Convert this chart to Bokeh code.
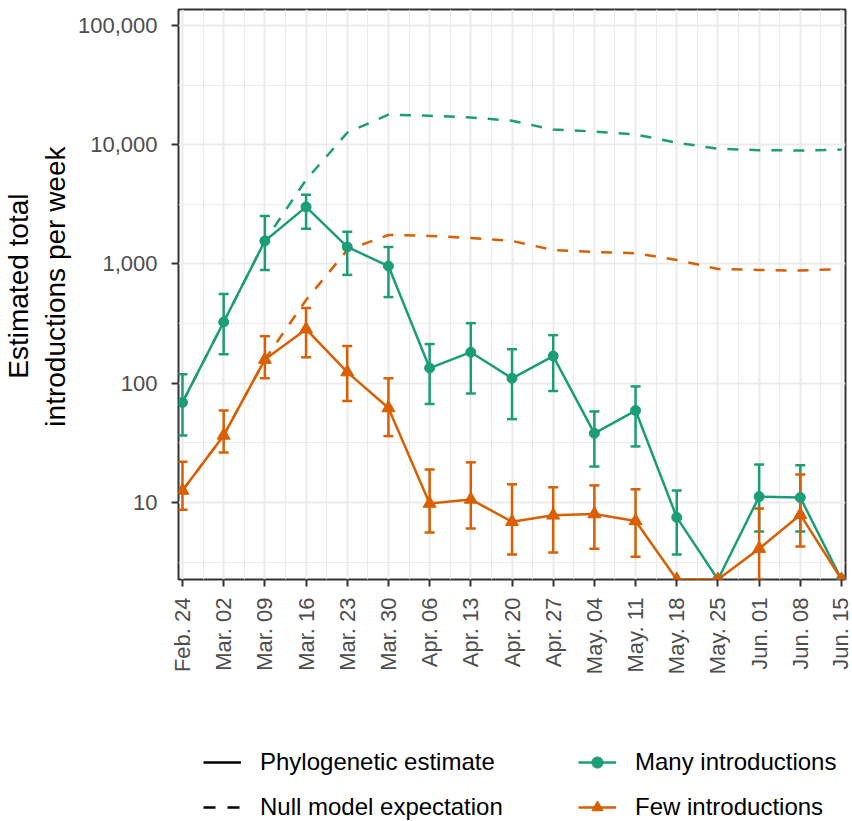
import math
from bokeh.plotting import figure
from bokeh.layouts import column
from bokeh.models import (Range1d, FixedTicker, Whisker, TeeHead, ColumnDataSource,
                          Legend, LegendItem, NumeralTickFormatter, Title)
from bokeh.embed import file_html
from bokeh.resources import INLINE

# ---------------- data ----------------
weeks = ["Feb. 24", "Mar. 02", "Mar. 09", "Mar. 16", "Mar. 23", "Mar. 30", "Apr. 06",
         "Apr. 13", "Apr. 20", "Apr. 27", "May. 04", "May. 11", "May. 18", "May. 25",
         "Jun. 01", "Jun. 08", "Jun. 15"]

# Many introductions (phylogenetic estimate), 0 = drawn at panel floor
many_est = [69, 326, 1560, 3010, 1390, 960, 134, 182, 110, 169, 38, 59, 7.5, 0, 11.2, 11.0, 0]
many_lo = [36.5, 175, 890, 1970, 810, 528, 67, 82, 50, 86, 20, 29.5, 3.66, None, 5.7, 5.7, None]
many_hi = [119, 560, 2530, 3800, 1860, 1390, 213, 319, 193, 253, 58, 94, 12.6, None, 20.8, 20.5, None]

# Few introductions
few_est = [12.6, 36.5, 158, 284, 124, 62, 9.8, 10.6, 6.9, 7.8, 8.0, 7.0, 0, 0, 4.1, 7.9, 0]
few_lo = [8.7, 26.3, 110, 165, 71, 36, 5.6, 6.05, 3.66, 3.8, 4.1, 3.5, None, None, 0, 4.27, None]
few_hi = [22, 59, 248, 427, 205, 110, 18.9, 21.7, 14.2, 13.4, 13.9, 12.9, None, None, 8.9, 17.2, None]

# Null model expectation
many_null = [69, 326, 1560, 5080, 12600, 17900, 17500, 16900, 15900, 13400, 12900, 12200,
             10400, 9250, 9000, 8950, 9100]
few_null = [12.6, 36.5, 158, 498, 1310, 1750, 1720, 1650, 1560, 1310, 1260, 1230,
            1080, 908, 890, 880, 908]

y_major = [10, 100, 1000, 10000, 100000]
y_minor = [10 ** 0.5, 10 ** 1.5, 10 ** 2.5, 10 ** 3.5, 10 ** 4.5]

y_title_lines = ["Estimated total", "introductions per week"]
legend_labels = ["Phylogenetic estimate", "Null model expectation",
                 "Many introductions", "Few introductions"]

GREEN = "#1B9E77"
ORANGE = "#D95F02"
FONT = "Liberation Sans"

Y_LO = 10 ** 0.354
Y_HI = 10 ** 5.134
MAIN_H = 686
LEG_H = 821 - MAIN_H


def floor0(v):
    # mimic ggplot: log10(0) = -Inf is drawn at the panel edge
    if v is None:
        return None
    return Y_LO if v <= 0 else v


x = list(range(len(weeks)))

p = figure(width=852, height=MAIN_H, output_backend="svg", toolbar_location=None,
           y_axis_type="log",
           x_range=Range1d(-0.097, len(weeks) - 1 + 0.097),
           y_range=Range1d(Y_LO, Y_HI),
           min_border_left=178, min_border_right=7, min_border_top=9,
           min_border_bottom=MAIN_H - 579)

p.background_fill_color = "white"
p.border_fill_color = "white"
p.outline_line_color = "#333333"
p.outline_line_width = 2

# axes
p.xaxis.ticker = FixedTicker(ticks=x, minor_ticks=[i + 0.5 for i in x[:-1]])
p.xaxis.major_label_overrides = {i: w for i, w in enumerate(weeks)}
p.xaxis.major_label_orientation = math.pi / 2
p.yaxis.ticker = FixedTicker(ticks=y_major, minor_ticks=y_minor)
p.yaxis.formatter = NumeralTickFormatter(format="0,0")
for ax in (p.xaxis, p.yaxis):
    ax.axis_line_color = None
    ax.major_tick_line_color = "#333333"
    ax.major_tick_line_width = 2
    ax.major_tick_out = 7
    ax.major_tick_in = 0
    ax.minor_tick_out = 0
    ax.minor_tick_in = 0
    ax.major_label_text_font = FONT
    ax.major_label_text_color = "#4D4D4D"
    ax.major_label_text_font_size = "22px"
p.xaxis.major_label_standoff = 11
p.yaxis.major_label_standoff = 14

# y-axis title: two centred lines stacked in the left panel (nearest to axis first).
# Lines are top-anchored; offsets place each line centred around y ~ 286 px.
TITLE_PX = 28
title_specs = [(y_title_lines[1], 137, 8), (y_title_lines[0], 184, 0)]
for txt, off, so in title_specs:
    t = Title(text=txt, align="right", offset=off, standoff=so,
              text_font=FONT, text_font_size=f"{TITLE_PX}px", text_font_style="normal",
              text_color="black")
    p.add_layout(t, "left")

for g in (p.xgrid, p.ygrid):
    g.grid_line_color = "#EBEBEB"
    g.grid_line_width = 2
    g.minor_grid_line_color = "#EBEBEB"
    g.minor_grid_line_width = 1

# null model dashed lines
p.line(x, [floor0(v) for v in many_null], color=GREEN, line_width=2.5, line_dash="11 11")
p.line(x, [floor0(v) for v in few_null], color=ORANGE, line_width=2.5, line_dash="11 11")


def errorbars(lo, hi, color):
    xs, l, h = [], [], []
    for i, (a, b) in enumerate(zip(lo, hi)):
        if a is None or b is None:
            continue
        xs.append(i)
        l.append(floor0(a))
        h.append(floor0(b))
    src = ColumnDataSource(dict(x=xs, lo=l, hi=h))
    w = Whisker(source=src, base="x", lower="lo", upper="hi", line_color=color, line_width=2.5,
                upper_head=TeeHead(size=10, line_color=color, line_width=2.5),
                lower_head=TeeHead(size=10, line_color=color, line_width=2.5))
    p.add_layout(w)


errorbars(many_lo, many_hi, GREEN)
errorbars(few_lo, few_hi, ORANGE)

many_y = [floor0(v) for v in many_est]
few_y = [floor0(v) for v in few_est]
p.line(x, many_y, color=GREEN, line_width=2.5)
p.scatter(x, many_y, color=GREEN, size=10, marker="circle")
p.line(x, few_y, color=ORANGE, line_width=2.5)
p.scatter(x, few_y, color=ORANGE, size=13, marker="triangle")

# ---------------- legend figure ----------------
lf = figure(width=852, height=LEG_H, output_backend="svg", toolbar_location=None,
            x_range=Range1d(0, 1), y_range=Range1d(0, 1),
            min_border_left=0, min_border_right=0, min_border_top=0, min_border_bottom=0)
lf.axis.visible = False
lf.grid.visible = False
lf.outline_line_color = None
lf.background_fill_color = "white"
lf.border_fill_color = "white"

# key-only renderers: data placed outside the visible range so nothing shows
dummy = ColumnDataSource(dict(x=[-5, -4], y=[-5, -4]))
solid = lf.line("x", "y", source=dummy, color="black", line_width=2.5)
dashed = lf.line("x", "y", source=dummy, color="black", line_width=2.5, line_dash="12 12")
lgm = lf.line("x", "y", source=dummy, color=GREEN, line_width=2.5)
lgs = lf.scatter("x", "y", source=dummy, color=GREEN, size=8, marker="circle")
lom = lf.line("x", "y", source=dummy, color=ORANGE, line_width=2.5)
los = lf.scatter("x", "y", source=dummy, color=ORANGE, size=11, marker="triangle")

legend = Legend(items=[
    LegendItem(label=legend_labels[0], renderers=[solid]),
    LegendItem(label=legend_labels[1], renderers=[dashed]),
    LegendItem(label=legend_labels[2], renderers=[lgm, lgs]),
    LegendItem(label=legend_labels[3], renderers=[lom, los]),
], location=(25, 0), orientation="vertical", nrows=2)
legend.label_text_font = FONT
legend.label_text_font_size = "24px"
legend.label_text_color = "black"
legend.glyph_width = 38
legend.glyph_height = 28
legend.label_height = 28
legend.label_width = 301
legend.label_standoff = 19
legend.spacing = 17
legend.padding = 0
legend.margin = 0
legend.border_line_color = None
legend.background_fill_alpha = 0
lf.add_layout(legend, "center")

layout = column(p, lf, spacing=0)
open("out.html", "w").write(file_html(layout, INLINE))
